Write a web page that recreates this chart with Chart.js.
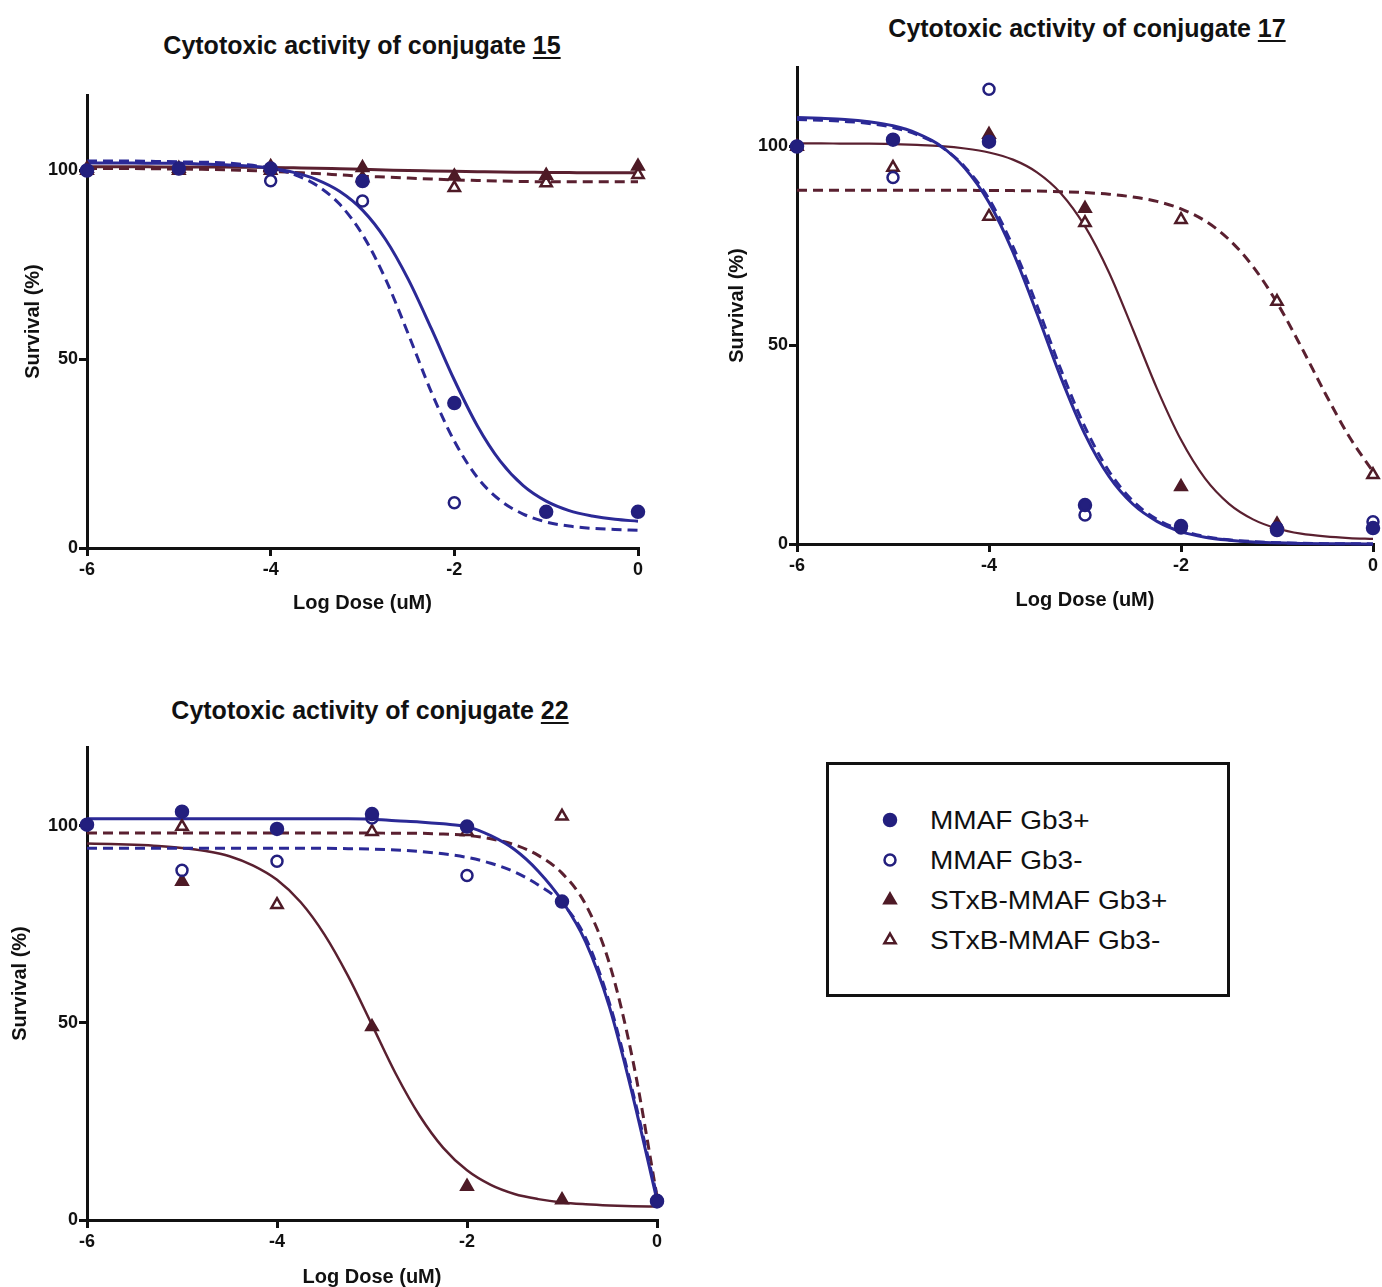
<!DOCTYPE html>
<html lang="en">
<head>
<meta charset="UTF-8" />
<title>Cytotoxic activity of conjugates</title>
<script src="https://cdn.jsdelivr.net/npm/chart.js"></script>
<style>
  html, body { margin: 0; padding: 0; background: #fff; overflow: hidden; }
  body { width: 1382px; height: 1287px; position: relative; font-family: 'Liberation Sans', Arial, sans-serif; color: #111; }
  .title { position: absolute; width: 600px; text-align: center; font-weight: 700; font-size: 25px; line-height: 28px; }
  .title u { text-decoration-thickness: 2px; text-underline-offset: 3px; }
  canvas.plot { position: absolute; }
  .legend { position: absolute; left: 826px; top: 762px; width: 398px; height: 229px; border: 3px solid #111; background: #fff; }
  .legend .row { position: absolute; left: 0; height: 40px; width: 390px; }
  .legend canvas { position: absolute; left: 51px; top: 10px; }
  .legend span { position: absolute; left: 101px; top: 4px; font-size: 25px; line-height: 32px; white-space: nowrap;
                 transform: scaleX(1.12); transform-origin: left center; }
</style>
</head>
<body>
  <div class="title" style="left:62px; top:31px;">Cytotoxic activity of conjugate <u>15</u></div>
  <div class="title" style="left:787px; top:14px;">Cytotoxic activity of conjugate <u>17</u></div>
  <div class="title" style="left:70px; top:696px;">Cytotoxic activity of conjugate <u>22</u></div>

  <canvas class="plot" id="c15" width="629" height="535" style="left:21px; top:80px;"></canvas>
  <canvas class="plot" id="c17" width="657" height="560" style="left:725px; top:52px;"></canvas>
  <canvas class="plot" id="c22" width="661" height="557" style="left:8px; top:732px;"></canvas>

  <div class="legend" id="legend"></div>

<script>
// measured doses (log uM)
const doses = [-6, -5, -4, -3, -2, -1, 0];
const fitDoses = [-6, -5.75, -5.5, -5.25, -5, -4.75, -4.5, -4.25, -4, -3.75, -3.5, -3.25, -3,
                  -2.75, -2.5, -2.25, -2, -1.75, -1.5, -1.25, -1, -0.75, -0.5, -0.25, 0];

const xTicks = [-6, -4, -2, 0];
const yTicks = [0, 50, 100];

const seriesNames = ['MMAF Gb3+', 'MMAF Gb3-', 'STxB-MMAF Gb3+', 'STxB-MMAF Gb3-'];

// conjugate 15 - points
const mmafPos15 = [100, 100.5, 100.5, 97.2, 38.4, 9.6, 9.6];
const mmafNeg15 = [100, 100.5, 97.3, 91.9, 12, null, null];
const stxbPos15 = [100.5, 100.5, 101, 100.7, 98.5, 98.7, 101.1];
const stxbNeg15 = [100, 100, 100, 98, 95.4, 96.7, 98.9];
// conjugate 15 - fitted curves
const fitMmafPos15 = [102, 102, 102, 101.9, 101.9, 101.7, 101.5, 101.2, 100.6, 99.5, 97.6, 94.5, 89.5,
                      81.8, 71.1, 58.1, 44.5, 32.4, 23, 16.5, 12.4, 9.9, 8.5, 7.6, 7.1];
const fitMmafNeg15 = [102.5, 102.5, 102.5, 102.4, 102.3, 102.2, 102, 101.5, 100.6, 99, 96.1, 91.1, 83,
                      71.3, 56.6, 41.3, 28.3, 18.7, 12.6, 9, 6.9, 5.8, 5.2, 4.9, 4.7];
const fitStxbPos15 = [101, 101, 101, 100.95, 100.9, 100.9, 100.9, 100.85, 100.8, 100.7, 100.6, 100.45, 100.3,
                      100.15, 100, 99.9, 99.8, 99.7, 99.6, 99.55, 99.5, 99.45, 99.4, 99.4, 99.4];
const fitStxbNeg15 = [100.5, 100.5, 100.5, 100.45, 100.4, 100.3, 100.2, 100, 99.8, 99.5, 99.2, 98.85, 98.5,
                      98.25, 98, 97.75, 97.5, 97.35, 97.2, 97.1, 97, 97, 97, 97, 97];

// conjugate 17 - points
const mmafPos17 = [100, 101.7, 101.2, 9.8, 4.5, 3.5, 4];
const mmafNeg17 = [100, 92.2, 114.4, 7.3, 4, 4, 5.6];
const stxbPos17 = [100, null, 103, 84.4, 14.4, 5, null];
const stxbNeg17 = [null, 94.7, 82.4, 80.8, 81.6, 61, 17.4];
// conjugate 17 - fitted curves
const fitMmafPos17 = [107.3, 107.1, 106.8, 106.2, 105.2, 103.3, 100.1, 94.5, 85.9, 73.4, 58, 41.8, 27.6,
                      17, 10, 5.7, 3.1, 1.7, 0.95, 0.5, 0.3, 0.15, 0.08, 0.04, 0.02];
const fitMmafNeg17 = [106.8, 106.6, 106.3, 105.8, 104.8, 103, 100, 94.8, 86.8, 74.8, 60, 43.8, 29.4,
                      18.3, 10.8, 6.2, 3.5, 1.9, 1.05, 0.6, 0.32, 0.17, 0.09, 0.05, 0.03];
const fitStxbPos17 = [100.8, 100.8, 100.7, 100.7, 100.6, 100.4, 100.1, 99.5, 98.5, 96.7, 93.5, 88.2, 79.9,
                      68.3, 53.9, 39.1, 26.2, 16.5, 10.1, 6.2, 3.9, 2.6, 1.9, 1.5, 1.3];
const fitStxbNeg17 = [89, 89, 89, 89, 89, 89, 89, 89, 88.9, 88.9, 88.8, 88.6, 88.4,
                      88, 87.3, 86.2, 84.3, 81.3, 76.6, 69.8, 60.7, 49.7, 38, 27.1, 18.2];

// conjugate 22 - points
const mmafPos22 = [100.3, 103.6, 99.2, 103, 99.8, 80.8, 4.7];
const mmafNeg22 = [null, 88.7, 91, 102, 87.4, null, 5];
const stxbPos22 = [null, 85.9, null, 49, 8.5, 5.1, null];
const stxbNeg22 = [null, 99.8, 80, 98.5, 98.5, 102.4, null];
// conjugate 22 - fitted curves
const fitMmafPos22 = [101.8, 101.8, 101.8, 101.8, 101.8, 101.8, 101.8, 101.8, 101.8, 101.8, 101.8, 101.8, 101.7,
                      101.3, 101, 100.5, 99.8, 97.5, 94, 88.5, 81, 70.5, 54, 31, 5];
const fitMmafNeg22 = [94.3, 94.3, 94.3, 94.3, 94.3, 94.3, 94.3, 94.3, 94.3, 94.3, 94.3, 94.2, 94.1,
                      93.9, 93.5, 92.9, 92, 90.5, 88.3, 85, 80.4, 71.5, 55, 32, 6];
const fitStxbPos22 = [95.5, 95.4, 95.2, 94.9, 94.4, 93.6, 92.3, 89.9, 86.3, 80.6, 72.4, 61.8, 49.5,
                      37.1, 26.5, 18.3, 12.6, 8.9, 6.6, 5.3, 4.45, 4, 3.7, 3.5, 3.4];
const fitStxbNeg22 = [98.2, 98.2, 98.2, 98.2, 98.2, 98.2, 98.2, 98.2, 98.2, 98.2, 98.2, 98.2, 98.2,
                      98.1, 98.1, 97.9, 97.6, 96.7, 95.2, 92.5, 88, 80, 65, 40, 6];

const BLUE = '#231f7e';
const BLUE_LINE = '#2b2996';
const RED = '#4e1a26';
const RED_LINE = '#5a2030';
const FONT = "'Liberation Sans', Arial, sans-serif";

// marker styles per series: filled circle, open circle, filled triangle, open triangle
const markers = [
  { style: 'circle', color: BLUE, fill: BLUE, radius: 6 },
  { style: 'circle', color: BLUE, fill: '#ffffff', radius: 5.5 },
  { style: 'triangle', color: RED, fill: RED, radius: 6.5 },
  { style: 'triangle', color: RED, fill: '#ffffff', radius: 6.5 }
];
const lineColors = [BLUE_LINE, BLUE_LINE, RED_LINE, RED_LINE];

function toXY(xs, ys) {
  return xs.map((x, i) => ({ x: x, y: ys[i] }));
}

function makeChart(id, points, fits, g) {
  const datasets = [];
  points.forEach((p, i) => {
    const m = markers[i];
    datasets.push({
      label: seriesNames[i],
      data: toXY(doses, p),
      showLine: false,
      pointStyle: m.style,
      pointRadius: m.radius,
      pointBorderWidth: 2.5,
      pointBorderColor: m.color,
      pointBackgroundColor: m.fill,
      clip: false
    });
  });
  fits.forEach((f, i) => {
    datasets.push({
      label: seriesNames[i] + ' fit',
      data: toXY(fitDoses, f),
      showLine: true,
      pointRadius: 0,
      borderColor: lineColors[i],
      borderWidth: i === 2 ? g.redSolidWidth : 3,
      borderDash: i % 2 === 1 ? [10, 6] : [],
      cubicInterpolationMode: 'monotone',
      fill: false,
      clip: false
    });
  });

  const tickFont = { family: FONT, size: 18, weight: 'bold' };
  const titleFont = { family: FONT, size: 20, weight: 'bold' };
  const grid = { display: true, drawOnChartArea: false, drawTicks: true, tickLength: 8,
                 lineWidth: 3, tickWidth: 3, tickColor: '#111', color: '#111' };

  return new Chart(document.getElementById(id), {
    type: 'scatter',
    data: { datasets: datasets },
    options: {
      responsive: false,
      animation: false,
      events: [],
      layout: { padding: { top: 15, right: g.padRight, bottom: 0, left: 0 } },
      plugins: { legend: { display: false }, tooltip: { enabled: false } },
      scales: {
        x: {
          type: 'linear', min: -6, max: 0,
          afterBuildTicks: s => { s.ticks = xTicks.map(v => ({ value: v })); },
          afterFit: s => { s.height = g.xH; },
          ticks: { color: '#111', font: tickFont, padding: 3, maxRotation: 0, autoSkip: false,
                   callback: v => String(v) },
          grid: grid,
          border: { display: true, width: 3, color: '#111' },
          title: { display: true, text: 'Log Dose (uM)', color: '#111', font: titleFont, padding: 0 }
        },
        y: {
          type: 'linear', min: 0, max: 120,
          afterBuildTicks: s => { s.ticks = yTicks.map(v => ({ value: v })); },
          afterFit: s => { s.width = g.yW; },
          ticks: { color: '#111', font: tickFont, padding: 1, callback: v => String(v) },
          grid: grid,
          border: { display: true, width: 3, color: '#111' },
          title: { display: true, text: 'Survival (%)', color: '#111', font: titleFont, padding: 0 }
        }
      }
    }
  });
}

makeChart('c15', [mmafPos15, mmafNeg15, stxbPos15, stxbNeg15],
  [fitMmafPos15, fitMmafNeg15, fitStxbPos15, fitStxbNeg15],
  { yW: 66, xH: 67, padRight: 12, redSolidWidth: 3 });
makeChart('c17', [mmafPos17, mmafNeg17, stxbPos17, stxbNeg17],
  [fitMmafPos17, fitMmafNeg17, fitStxbPos17, fitStxbNeg17],
  { yW: 72, xH: 68, padRight: 6, redSolidWidth: 2.2 });
makeChart('c22', [mmafPos22, mmafNeg22, stxbPos22, stxbNeg22],
  [fitMmafPos22, fitMmafNeg22, fitStxbPos22, fitStxbNeg22],
  { yW: 79, xH: 69, padRight: 12, redSolidWidth: 2.5 });

// legend box
const legend = document.getElementById('legend');
seriesNames.forEach((name, i) => {
  const row = document.createElement('div');
  row.className = 'row';
  row.style.top = (35 + i * 40) + 'px';
  const cv = document.createElement('canvas');
  cv.width = 20; cv.height = 20;
  const span = document.createElement('span');
  span.textContent = name;
  row.appendChild(cv);
  row.appendChild(span);
  legend.appendChild(row);

  const m = markers[i];
  const ctx = cv.getContext('2d');
  ctx.fillStyle = m.fill;
  ctx.strokeStyle = m.color;
  ctx.lineWidth = 2.5;
  if (Chart.helpers && Chart.helpers.drawPoint) {
    Chart.helpers.drawPoint(ctx, { pointStyle: m.style, radius: m.radius, rotation: 0, borderWidth: 2.5 }, 10, 10);
  } else {
    ctx.beginPath();
    ctx.arc(10, 10, m.radius, 0, Math.PI * 2);
    ctx.fill(); ctx.stroke();
  }
});
</script>
</body>
</html>
